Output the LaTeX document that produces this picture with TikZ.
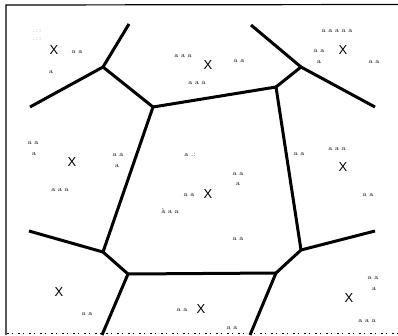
\documentclass[tikz,border=0pt]{standalone}
\usepackage{fontspec}
\newfontfamily\xfont{Liberation Sans}
\begin{document}
\begin{tikzpicture}[x=1pt,y=-1pt,
  vor/.style={line width=3pt,line join=round},
  frame/.style={line width=1.2pt},
  site/.style={inner sep=0pt,font=\xfont\fontsize{13}{13}\selectfont},
  pts/.style={inner sep=0pt,font=\fontsize{7}{7}\selectfont},
  faint/.style={inner sep=0pt,font=\fontsize{6}{6}\selectfont,text=black!55}]
\useasboundingbox (0,0) rectangle (398,335);
% frame
\coordinate (tl) at (6,5);
\coordinate (tr) at (398,4.5);
\coordinate (bl) at (6,335);
\coordinate (br) at (398,333);
\draw[frame] (bl) -- (tl) -- (tr);
\draw[line width=1pt,dash pattern=on 2pt off 3pt on 1pt off 5pt] (7,333) -- (br);
% Voronoi vertices
\coordinate (A) at (103,67);
\coordinate (B) at (153,107);
\coordinate (C) at (276,87);
\coordinate (D) at (301,67);
\coordinate (E) at (301,250);
\coordinate (F) at (276,273);
\coordinate (G) at (128,274);
\coordinate (H) at (103,252);
% free ends
\coordinate (a1) at (129,24);
\coordinate (a2) at (30,107);
\coordinate (d1) at (251,25);
\coordinate (d2) at (375,107);
\coordinate (h1) at (29,231);
\coordinate (e1) at (375,231);
\coordinate (g1) at (102,335);
\coordinate (f1) at (250,335);
% edges
\draw[vor] (a1) -- (A);
\draw[vor] (a2) -- (A);
\draw[vor] (A) -- (B);
\draw[vor] (B) -- (C);
\draw[vor] (C) -- (D);
\draw[vor] (D) -- (d1);
\draw[vor] (D) -- (d2);
\draw[vor] (B) -- (H);
\draw[vor] (C) -- (E);
\draw[vor] (E) -- (e1);
\draw[vor] (E) -- (F);
\draw[vor] (F) -- (G);
\draw[vor] (G) -- (H);
\draw[vor] (H) -- (h1);
\draw[vor] (G) -- (g1);
\draw[vor] (F) -- (f1);
% sites
\node[site] (s1) at (54,50) {X};
\node[site] (s2) at (208,65) {X};
\node[site] (s3) at (343,50) {X};
\node[site] (s4) at (72,162) {X};
\node[site] (s5) at (208,194) {X};
\node[site] (s6) at (343,167) {X};
\node[site] (s7) at (59,292) {X};
\node[site] (s8) at (201,309) {X};
\node[site] (s9) at (349,298) {X};
% points
\node[faint] (p0a) at (37,31) {.\,:\,:};
\node[faint] (p0b) at (37,39) {.\,:\,:};
\node[pts] (p1) at (77,52) {a a};
\node[pts] (p2) at (51,72) {a};
\node[pts] (p3) at (183,56) {a a a};
\node[pts] (p4) at (197,83) {a a a};
\node[pts] (p5) at (239,61) {a a};
\node[pts] (p6) at (33,143) {a a};
\node[pts] (p7) at (34,154) {a};
\node[pts] (p8) at (118,155) {a a};
\node[pts] (p9) at (117,166) {a};
\node[pts] (p10) at (190,155) {a .:};
\node[pts] (p11) at (337,31) {a a a a a};
\node[pts] (p12) at (319,51) {a a};
\node[pts] (p13) at (319,62) {a};
\node[pts] (p14) at (374,62) {a a};
\node[pts] (p15) at (299,154) {a a};
\node[pts] (p16) at (337,149) {a a a};
\node[pts] (p17) at (60,190) {a a a};
\node[pts] (p18) at (189,195) {a a};
\node[pts] (p19) at (170,211) {\`a a a};
\node[pts] (p20) at (238,174) {a a};
\node[pts] (p21) at (238,184) {a};
\node[pts] (p22) at (238,239) {a a};
\node[pts] (p23) at (368,195) {a a};
\node[pts] (p24) at (87,314) {a a};
\node[pts] (p25) at (182,310) {a a};
\node[pts] (p26) at (232,328) {a a};
\node[pts] (p27) at (373,278) {a a};
\node[pts] (p28) at (374,289) {a};
\node[pts] (p29) at (367,321) {a a a};
\end{tikzpicture}
\end{document}
